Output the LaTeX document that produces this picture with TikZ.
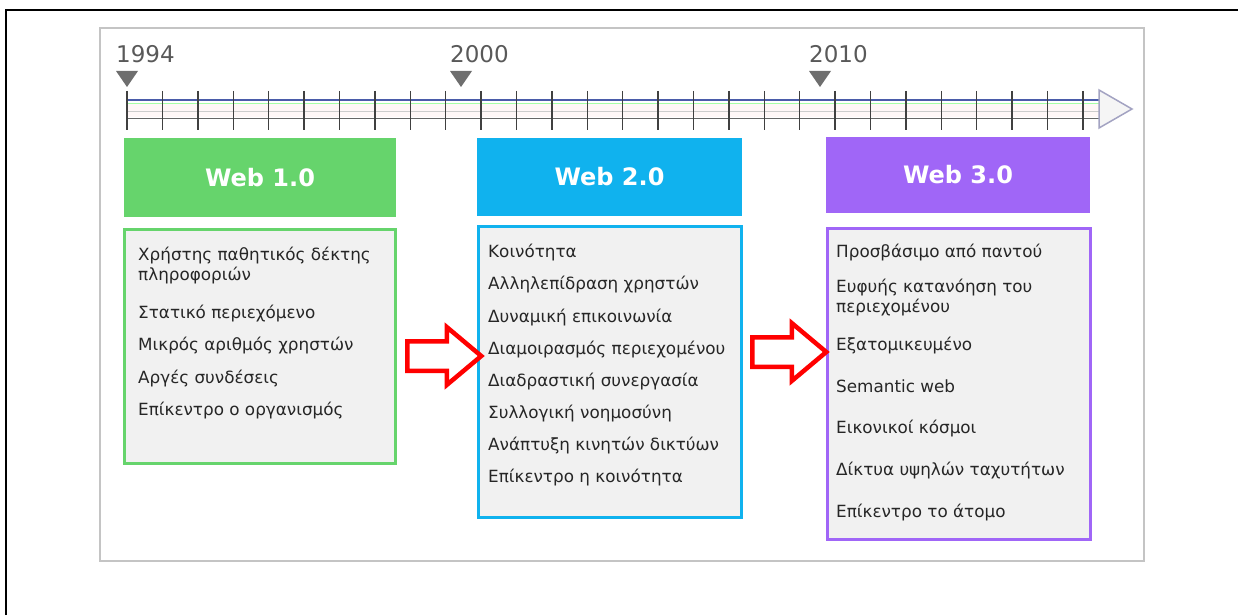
\documentclass[tikz,border=0pt]{standalone}
\usepackage{fontspec}
\setmainfont{DejaVu Sans}
\usetikzlibrary{shapes.arrows}
\definecolor{webgreen}{HTML}{66D46C}
\definecolor{webcyan}{HTML}{10B2EE}
\definecolor{webpurple}{HTML}{A066F7}
\definecolor{boxgray}{HTML}{F1F1F1}
\definecolor{framegray}{HTML}{C4C4C4}
\definecolor{markgray}{HTML}{6E6E6E}
\definecolor{bandblue}{HTML}{4A5CAA}
\begin{document}
\begin{tikzpicture}[x=1pt, y=-1pt,
    header/.style={rectangle, minimum width=266pt, minimum height=78pt,
        text=white, font=\fontsize{24}{28}\selectfont\bfseries},
    listbox/.style={rectangle, line width=3pt, fill=boxgray,
        minimum width=263pt},
    item/.style={anchor=base west, inner sep=0pt, text=black!85,
        font=\fontsize{16.8}{20}\selectfont},
    year/.style={anchor=base west, inner sep=0pt, text=black!65,
        font=\fontsize{23}{26}\selectfont},
    bigarrow/.style={single arrow, draw=red, line width=4.5pt, fill=white,
        anchor=tail, minimum height=74pt, inner sep=0pt, inner ysep=12.5pt,
        single arrow head extend=14pt, single arrow tip angle=80}
]
    \useasboundingbox (0,0) rectangle (1238,615);
    \draw[line width=2.5pt] (6,615) -- (6,10) -- (1238,10);
    \draw[framegray, line width=2.5pt] (100,28) rectangle (1144,561);

    % timeline
    \fill[pink!12] (127,104) rectangle (1099,117);
    \draw[bandblue, line width=1.2pt] (127,100) -- (1099,100);
    \draw[green!35] (127,103.5) -- (1099,103.5);
    \draw[gray!40] (127,111) -- (1099,111);
    \draw[black!60, line width=1.2pt] (127,118.5) -- (1099,118.5);
    \foreach \k in {0,...,27}
        \draw[black!75, line width=1.4pt] ({127+35.4*\k},91) -- ++(0,39);
    \draw[blue!20!gray!60, line width=1.5pt, fill=gray!8]
        (1099,90) -- (1132,109) -- (1099,128) -- cycle;
    \foreach \x/\yr in {127/1994, 461/2000, 820/2010} {
        \fill[markgray] (\x-11,71) -- (\x+11,71) -- (\x,87) -- cycle;
        \node[year] (y\yr) at (\x-11,63) {\yr};
    }

    \node[header, fill=webgreen, minimum width=272pt, minimum height=79pt] (h1) at (260,177.5) {Web 1.0};
    \node[header, fill=webcyan, minimum width=265pt] (h2) at (609.5,177) {Web 2.0};
    \node[header, fill=webpurple, minimum width=264pt, minimum height=76pt] (h3) at (958,175) {Web 3.0};

    \node[listbox, draw=webgreen, minimum width=271pt, minimum height=234pt] (b1) at (260,346.5) {};
    \node[listbox, draw=webcyan, minimum height=291pt] (b2) at (610,372) {};
    \node[listbox, draw=webpurple, minimum height=311pt] (b3) at (959,384) {};

    \foreach \y/\t [count=\i] in {260/Χρήστης παθητικός δέκτης, 280/πληροφοριών,
        318/Στατικό περιεχόμενο, 350/Μικρός αριθμός χρηστών,
        383/Αργές συνδέσεις, 415/Επίκεντρο ο οργανισμός}
        \node[item] (w1-\i) at (138,\y) {\t};
    \foreach \y/\t [count=\i] in {257/Κοινότητα, 289/Αλληλεπίδραση χρηστών,
        322/Δυναμική επικοινωνία, 354/Διαμοιρασμός περιεχομένου,
        386/Διαδραστική συνεργασία, 418/Συλλογική νοημοσύνη,
        450/Ανάπτυξη κινητών δικτύων, 482/Επίκεντρο η κοινότητα}
        \node[item] (w2-\i) at (488,\y) {\t};
    \foreach \y/\t [count=\i] in {257/Προσβάσιμο από παντού, 292/Ευφυής κατανόηση του,
        312/περιεχομένου, 350/Εξατομικευμένο, 392/Semantic web,
        433/Εικονικοί κόσμοι, 475/Δίκτυα υψηλών ταχυτήτων, 517/Επίκεντρο το άτομο}
        \node[item] (w3-\i) at (836,\y) {\t};

    \node[bigarrow] (a1) at (405,356) {};
    \node[bigarrow] (a2) at (750,352) {};
\end{tikzpicture}
\end{document}
